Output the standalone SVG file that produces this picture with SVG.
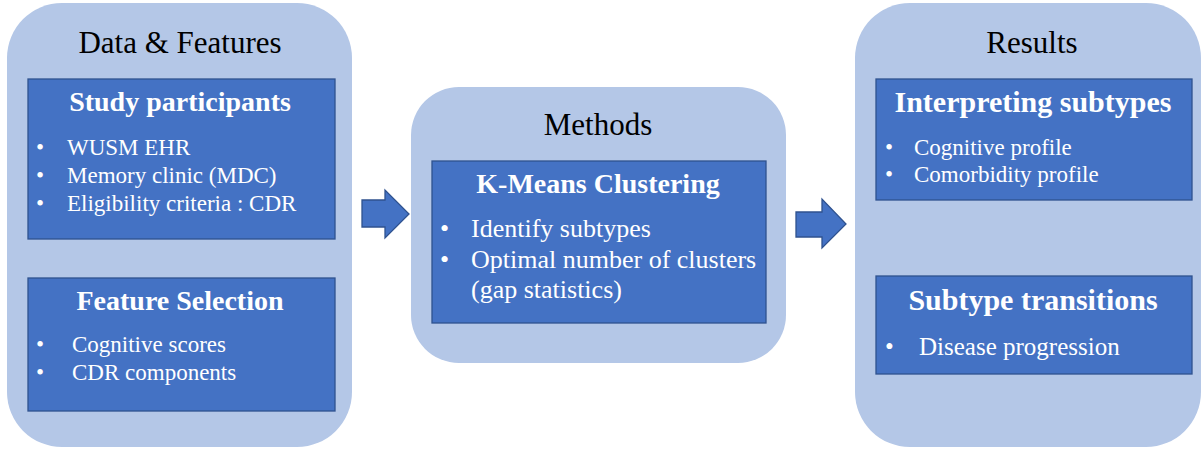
<svg xmlns="http://www.w3.org/2000/svg" width="1202" height="449" viewBox="0 0 1202 449">
<style>
.cont{fill:#B4C7E7;}
.box{fill:#4472C4;stroke:#2F528F;stroke-width:1.3;}
.arr{fill:#4472C4;stroke:#2F528F;stroke-width:1.3;}
text{font-family:"Liberation Serif","Times New Roman",serif;}
.ct{font-size:31px;fill:#000;text-anchor:middle;}
.bt{font-size:28px;font-weight:bold;fill:#fff;text-anchor:middle;}
.bl{font-size:23px;fill:#fff;}
.bl2{font-size:26px;fill:#fff;}
</style>
<rect width="1202" height="449" fill="#fff"/>
<g id="data-features">
<rect class="cont" x="7" y="3" width="345" height="444" rx="55"/>
<text class="ct" x="180" y="53">Data &amp; Features</text>
</g>
<g id="study-participants">
<rect class="box" x="28" y="79" width="307" height="160"/>
<text class="bt" x="180" y="111">Study participants</text>
<text class="bl" x="36" y="155">•</text><text class="bl" x="67" y="155">WUSM EHR</text>
<text class="bl" x="36" y="183">•</text><text class="bl" x="67" y="183">Memory clinic (MDC)</text>
<text class="bl" x="36" y="211">•</text><text class="bl" x="67" y="211">Eligibility criteria : CDR</text>
</g>
<g id="feature-selection">
<rect class="box" x="28" y="278" width="307" height="133"/>
<text class="bt" x="180" y="310">Feature Selection</text>
<text class="bl" x="36" y="352">•</text><text class="bl" x="72" y="352">Cognitive scores</text>
<text class="bl" x="36" y="380">•</text><text class="bl" x="72" y="380">CDR components</text>
</g>
<g id="methods">
<rect class="cont" x="411" y="87" width="375" height="276" rx="48"/>
<text class="ct" x="598" y="135">Methods</text>
</g>
<g id="kmeans">
<rect class="box" x="432" y="161" width="334" height="162"/>
<text class="bt" x="598" y="193">K-Means Clustering</text>
<text class="bl2" x="440" y="237">•</text><text class="bl2" x="471" y="237">Identify subtypes</text>
<text class="bl2" x="440" y="268">•</text><text class="bl2" x="471" y="268">Optimal number of clusters</text>
<text class="bl2" x="471" y="298">(gap statistics)</text>
</g>
<g id="results">
<rect class="cont" x="855" y="3" width="346" height="444" rx="55"/>
<text class="ct" x="1032" y="53">Results</text>
</g>
<g id="interpreting">
<rect class="box" x="876" y="79" width="316" height="121"/>
<text class="bt" x="1033" y="112" style="font-size:30px">Interpreting subtypes</text>
<text class="bl" x="885" y="155">•</text><text class="bl" x="914" y="155">Cognitive profile</text>
<text class="bl" x="885" y="182">•</text><text class="bl" x="914" y="182">Comorbidity profile</text>
</g>
<g id="transitions">
<rect class="box" x="876" y="276" width="316" height="98"/>
<text class="bt" x="1033" y="310" style="font-size:30px">Subtype transitions</text>
<text class="bl" x="885" y="355" style="font-size:25px">•</text><text class="bl" x="919" y="355" style="font-size:25px">Disease progression</text>
</g>
<g id="connectors">
<polygon class="arr" points="362,200 385,200 385,190 409,214 385,238 385,227 362,227"/>
<polygon class="arr" points="796,212 822,212 822,199 846,224 822,248 822,237 796,237"/>
</g>
</svg>
